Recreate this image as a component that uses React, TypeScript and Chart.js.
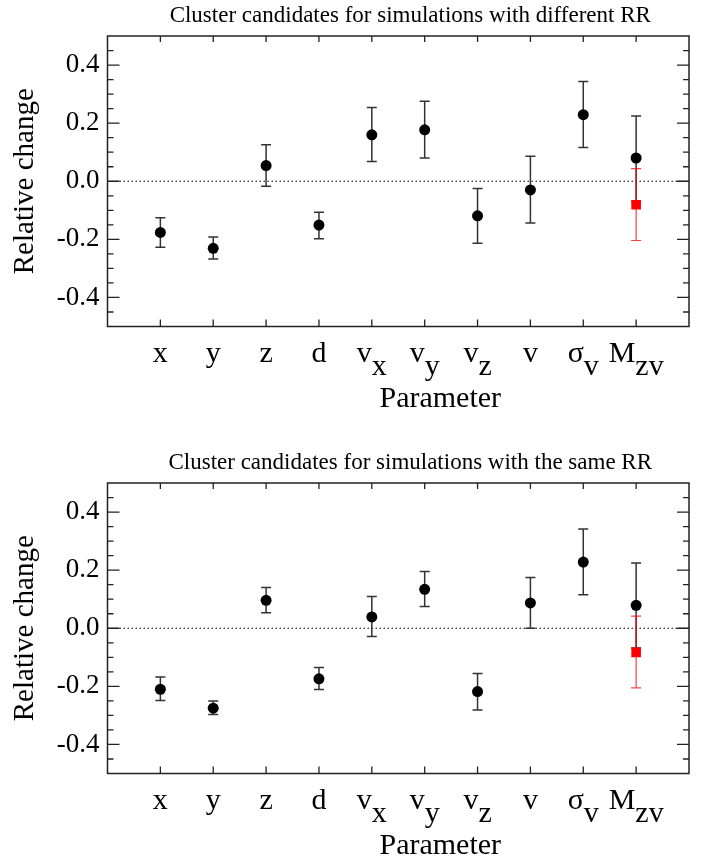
import React, { useEffect, useRef } from "react";
import { Chart, registerables } from "chart.js";

Chart.register(...registerables);

const FONT = "'Liberation Serif', 'Times New Roman', serif";

// Categories (main glyph + subscript) at positions 1..10
const CATEGORY_POS = [1, 2, 3, 4, 5, 6, 7, 8, 9, 10];
const CATEGORY_MAIN = ["x", "y", "z", "d", "v", "v", "v", "v", "σ", "M"];
const CATEGORY_SUB = ["", "", "", "", "x", "y", "z", "", "v", "zv"];

const Y_TICKS = [-0.4, -0.2, 0, 0.2, 0.4];
const Y_MINOR_TICKS = [-0.45, -0.35, -0.3, -0.25, -0.15, -0.1, -0.05, 0.05, 0.1, 0.15, 0.25, 0.3, 0.35, 0.45];

// Panel 1: different RR
const DIFF_VALUES = [-0.176, -0.231, 0.054, -0.151, 0.160, 0.177, -0.119, -0.030, 0.229, 0.080];
const DIFF_UPPER = [-0.126, -0.192, 0.126, -0.107, 0.254, 0.275, -0.025, 0.086, 0.343, 0.225];
const DIFF_LOWER = [-0.227, -0.268, -0.017, -0.198, 0.068, 0.080, -0.213, -0.144, 0.116, -0.070];
const DIFF_RED = [-0.081];
const DIFF_RED_UPPER = [0.0435];
const DIFF_RED_LOWER = [-0.204];

// Panel 2: same RR
const SAME_VALUES = [-0.210, -0.275, 0.096, -0.174, 0.039, 0.134, -0.218, 0.087, 0.228, 0.079];
const SAME_UPPER = [-0.168, -0.250, 0.140, -0.135, 0.109, 0.195, -0.156, 0.175, 0.342, 0.225];
const SAME_LOWER = [-0.249, -0.297, 0.053, -0.211, -0.028, 0.075, -0.281, 0.0, 0.115, -0.068];
const SAME_RED = [-0.083];
const SAME_RED_UPPER = [0.042];
const SAME_RED_LOWER = [-0.205];

const RED_POS = [10];

type PanelProps = {
  title: string;
  values: number[];
  upper: number[];
  lower: number[];
  red: number[];
  redUpper: number[];
  redLower: number[];
  height: number;
};

function Panel(props: PanelProps) {
  const ref = useRef<HTMLCanvasElement>(null);
  useEffect(() => {
    const canvas = ref.current!;
    const { title, values, upper, lower, red, redUpper, redLower, height } = props;

    const drawBar = (ctx: CanvasRenderingContext2D, px: number, y1: number, y2: number, color: string, lw: number) => {
      ctx.save();
      ctx.strokeStyle = color;
      ctx.lineWidth = lw;
      ctx.beginPath();
      ctx.moveTo(px, y1);
      ctx.lineTo(px, y2);
      ctx.moveTo(px - 5, y1);
      ctx.lineTo(px + 5, y1);
      ctx.moveTo(px - 5, y2);
      ctx.lineTo(px + 5, y2);
      ctx.stroke();
      ctx.restore();
    };

    const decor = {
      id: "decor",
      beforeDatasetsDraw(chart: any) {
        const ctx: CanvasRenderingContext2D = chart.ctx;
        const xs = chart.scales.x;
        const ys = chart.scales.y;
        const { left, right } = chart.chartArea;
        // dotted zero line
        ctx.save();
        ctx.strokeStyle = "#000";
        ctx.lineWidth = 1.2;
        ctx.setLineDash([1.5, 2.5]);
        const y0 = ys.getPixelForValue(0);
        ctx.beginPath();
        ctx.moveTo(left, y0);
        ctx.lineTo(right, y0);
        ctx.stroke();
        ctx.restore();
        // black error bars
        CATEGORY_POS.forEach((p, i) => {
          drawBar(ctx, xs.getPixelForValue(p), ys.getPixelForValue(upper[i]), ys.getPixelForValue(lower[i]), "#333", 1.5);
        });
        // red error bar
        RED_POS.forEach((p, i) => {
          drawBar(ctx, xs.getPixelForValue(p), ys.getPixelForValue(redUpper[i]), ys.getPixelForValue(redLower[i]), "rgba(255,0,0,0.75)", 1.2);
        });
      },
      afterDraw(chart: any) {
        const ctx: CanvasRenderingContext2D = chart.ctx;
        const xs = chart.scales.x;
        const ys = chart.scales.y;
        const { left, right, top, bottom } = chart.chartArea;
        ctx.save();
        // frame
        ctx.strokeStyle = "#222";
        ctx.lineWidth = 1.5;
        ctx.strokeRect(left, top, right - left, bottom - top);
        // ticks
        ctx.lineWidth = 1.3;
        ctx.beginPath();
        Y_TICKS.forEach((v) => {
          const py = ys.getPixelForValue(v);
          ctx.moveTo(left, py);
          ctx.lineTo(left + 12, py);
          ctx.moveTo(right, py);
          ctx.lineTo(right - 12, py);
        });
        Y_MINOR_TICKS.forEach((v) => {
          const py = ys.getPixelForValue(v);
          ctx.moveTo(left, py);
          ctx.lineTo(left + 6, py);
          ctx.moveTo(right, py);
          ctx.lineTo(right - 6, py);
        });
        CATEGORY_POS.forEach((p) => {
          const px = xs.getPixelForValue(p);
          ctx.moveTo(px, bottom);
          ctx.lineTo(px, bottom - 7);
          ctx.moveTo(px, top);
          ctx.lineTo(px, top + 6);
        });
        ctx.stroke();

        // title
        ctx.fillStyle = "#000";
        ctx.font = `23px ${FONT}`;
        ctx.textAlign = "center";
        ctx.textBaseline = "alphabetic";
        ctx.fillText(title, (left + right) / 2 + 12, top - 14.3);

        // category labels with subscripts
        ctx.font = `30px ${FONT}`;
        ctx.textAlign = "left";
        CATEGORY_POS.forEach((p, i) => {
          const px = xs.getPixelForValue(p);
          const mw = ctx.measureText(CATEGORY_MAIN[i]).width;
          const sw = CATEGORY_SUB[i] ? ctx.measureText(CATEGORY_SUB[i]).width : 0;
          const start = px - (mw + sw) / 2;
          ctx.fillText(CATEGORY_MAIN[i], start, bottom + 35.5);
          if (CATEGORY_SUB[i]) ctx.fillText(CATEGORY_SUB[i], start + mw, bottom + 48.5);
        });

        // x-axis title
        ctx.font = `30px ${FONT}`;
        ctx.textAlign = "center";
        ctx.fillText("Parameter", (left + right) / 2 + 42, bottom + 80.5);
        ctx.restore();
      },
    };

    const chart = new Chart(canvas, {
      type: "scatter",
      data: {
        datasets: [
          {
            data: CATEGORY_POS.map((x, i) => ({ x, y: values[i] })),
            pointStyle: "circle",
            pointRadius: 5.5,
            pointBackgroundColor: "#000",
            pointBorderColor: "#000",
            pointBorderWidth: 0,
            order: 1,
          },
          {
            data: RED_POS.map((x, i) => ({ x, y: red[i] })),
            pointStyle: "rect",
            pointRadius: 6.8,
            pointBackgroundColor: "#ff0000",
            pointBorderColor: "#ff0000",
            pointBorderWidth: 0,
            order: 0,
          },
        ],
      },
      options: {
        responsive: false,
        animation: false,
        events: [],
        layout: { padding: { top: 36, right: 21, left: 0, bottom: 0 } },
        plugins: {
          legend: { display: false },
          tooltip: { enabled: false },
          title: { display: false },
        },
        scales: {
          x: {
            type: "linear",
            min: 0,
            max: 11,
            grid: { display: false, drawTicks: false },
            border: { display: false },
            ticks: { display: false },
            afterFit: (s: any) => {
              s.height = height - 326.5;
            },
          },
          y: {
            type: "linear",
            min: -0.5,
            max: 0.5,
            grid: { display: false, drawTicks: false },
            border: { display: false },
            afterBuildTicks: (s: any) => {
              s.ticks = Y_TICKS.map((v) => ({ value: v }));
            },
            ticks: {
              callback: (v: any) => Number(v).toFixed(1),
              font: { family: FONT, size: 27 },
              color: "#000",
              padding: 8,
            },
            title: {
              display: true,
              text: "Relative change",
              font: { family: FONT, size: 29 },
              color: "#000",
              padding: { top: 7.5, bottom: 0 },
            },
            afterFit: (s: any) => {
              s.width = 107.5;
            },
          },
        },
      },
      plugins: [decor],
    } as any);
    return () => chart.destroy();
  }, []);
  return <canvas ref={ref} width={710} height={props.height} style={{ display: "block" }} />;
}

export default function App() {
  return (
    <div style={{ position: "absolute", left: 0, top: 0, width: 710, height: 859, background: "#fff" }}>
      <Panel
        title="Cluster candidates for simulations with different RR"
        values={DIFF_VALUES}
        upper={DIFF_UPPER}
        lower={DIFF_LOWER}
        red={DIFF_RED}
        redUpper={DIFF_RED_UPPER}
        redLower={DIFF_RED_LOWER}
        height={447}
      />
      <Panel
        title="Cluster candidates for simulations with the same RR"
        values={SAME_VALUES}
        upper={SAME_UPPER}
        lower={SAME_LOWER}
        red={SAME_RED}
        redUpper={SAME_RED_UPPER}
        redLower={SAME_RED_LOWER}
        height={412}
      />
    </div>
  );
}
